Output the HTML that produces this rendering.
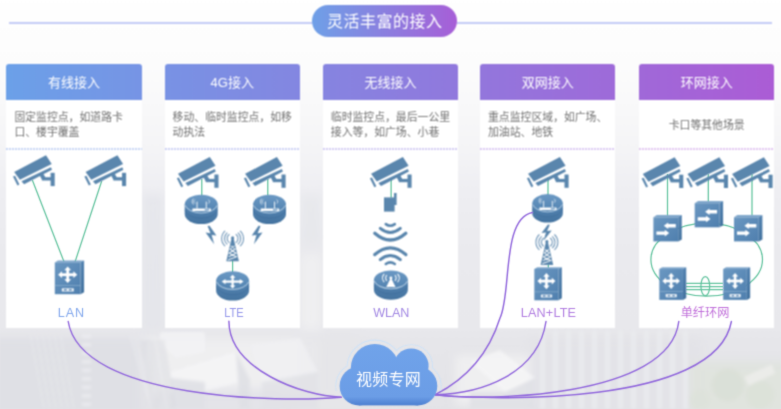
<!DOCTYPE html>
<html lang="zh-CN">
<head>
<meta charset="utf-8">
<title>灵活丰富的接入</title>
<style>
html,body{margin:0;padding:0;width:781px;height:409px;overflow:hidden;}
#clip{position:absolute;left:0;top:0;width:781px;height:409px;overflow:hidden;}
body{position:relative;width:781px;height:409px;overflow:hidden;background:#fff;font-family:"Liberation Sans","Noto Sans CJK SC",sans-serif;}
#wrap{position:absolute;left:-8px;top:-8px;width:797px;height:425px;filter:url(#fb);
  background:linear-gradient(180deg,#ffffff 0px,#fcfcfc 72px,#f8f8f9 118px,#f4f4f6 158px,#eeeef2 198px,#eaeaee 258px,#e8e8ec 336px,#e6e6ea 348px,#e3e3e7 425px);}
#stage,#stageB{position:absolute;left:8px;top:8px;width:781px;height:409px;}
#wrapB,.wrapX{position:absolute;left:-8px;top:-8px;width:797px;height:425px;}
#wrapB{filter:url(#fb2);}
.stageX{position:absolute;left:8px;top:8px;width:781px;height:409px;}
.bld{position:absolute;}
.card{position:absolute;top:64.2px;width:135.4px;height:264.3px;background:#fff;border-radius:3px 3px 0 0;overflow:hidden;}
.hdr{position:absolute;left:0;top:0;width:100%;height:35.6px;line-height:37.4px;text-align:center;color:#fff;font-size:13px;
  background-image:linear-gradient(90deg,#6ba0e8,#ab5cd5);background-size:768px 100%;background-repeat:no-repeat;}
.desc{position:absolute;left:8px;right:0;top:36.2px;height:49px;display:flex;align-items:center;font-size:10.85px;line-height:14.5px;color:#707070;white-space:nowrap;}
.desc.c{left:0;justify-content:center;}
.dot{position:absolute;left:0;right:0;top:83.7px;height:1.7px;background-image:repeating-linear-gradient(90deg,var(--c) 0,var(--c) 2px,transparent 2px,transparent 3px);}
.lab{position:absolute;top:304.7px;width:120px;margin-left:-60px;text-align:center;font-size:12.6px;line-height:16px;}
.lab.cn{font-size:12.2px;top:304.5px;}
#pill{position:absolute;left:312px;top:5px;width:145px;height:32px;border-radius:16px;background:linear-gradient(90deg,#6ea0e7,#a75ed7);
  color:#fff;font-size:16px;line-height:34px;text-align:center;letter-spacing:0.5px;text-indent:0.5px;}
.hl{position:absolute;top:22px;height:1.5px;background:#c3cbf6;}
#cloudtxt{position:absolute;left:339px;top:368px;width:99px;text-align:center;color:#fff;font-size:16px;line-height:24px;letter-spacing:0.3px;}
</style>
</head>
<body>
<svg width="0" height="0" style="position:absolute"><filter id="fb" x="0" y="0" width="100%" height="100%" color-interpolation-filters="sRGB"><feConvolveMatrix order="3" kernelMatrix="1 2 1 2 4 2 1 2 1" divisor="16" edgeMode="duplicate" preserveAlpha="false"/></filter><filter id="fb2" x="0" y="0" width="100%" height="100%" color-interpolation-filters="sRGB"><feConvolveMatrix order="3" kernelMatrix="1 5 1 5 25 5 1 5 1" divisor="49" edgeMode="duplicate" preserveAlpha="false"/></filter></svg>
<div id="clip">
<div id="wrap">
<div id="stage">

<svg id="bg" width="781" height="409" viewBox="0 0 781 409" style="position:absolute;left:0;top:0">
<defs><filter id="bl" x="-20%" y="-20%" width="140%" height="140%"><feGaussianBlur stdDeviation="4"/></filter><filter id="bl2" x="-20%" y="-20%" width="140%" height="140%"><feGaussianBlur stdDeviation="1.6"/></filter></defs>
<g filter="url(#bl)">
<rect x="-10" y="338" width="150" height="90" fill="#dedfe4" opacity="0.90"/>
<rect x="150" y="338" width="170" height="55" fill="#efeff1" opacity="0.90"/>
<rect x="160" y="388" width="120" height="30" fill="#e4e4e8" opacity="0.80"/>
<rect x="300" y="338" width="60" height="80" fill="#e6e6e9" opacity="0.80"/>
<rect x="455" y="355" width="80" height="50" fill="#efeff1" opacity="0.90"/>
<rect x="530" y="338" width="170" height="80" fill="#e2e2e7" opacity="0.80"/>
<rect x="690" y="362" width="100" height="60" fill="#dfe3dd" opacity="0.90"/>
<rect x="143" y="195" width="20" height="135" fill="#e3e4e9" opacity="0.70"/>
<rect x="301" y="255" width="20" height="75" fill="#f0f0f1" opacity="0.80"/>
<rect x="301" y="195" width="20" height="50" fill="#e5e6ea" opacity="0.60"/>
</g>
<g filter="url(#bl2)" opacity="0.8">
<rect x="82" y="335.0" width="9" height="2.6" fill="#f1f1f4"/>
<rect x="82" y="343.5" width="9" height="2.6" fill="#f1f1f4"/>
<rect x="82" y="352.0" width="9" height="2.6" fill="#f1f1f4"/>
<rect x="82" y="360.5" width="9" height="2.6" fill="#f1f1f4"/>
<rect x="82" y="369.0" width="9" height="2.6" fill="#f1f1f4"/>
<rect x="82" y="377.5" width="9" height="2.6" fill="#f1f1f4"/>
<rect x="82" y="386.0" width="9" height="2.6" fill="#f1f1f4"/>
<rect x="82" y="394.5" width="9" height="2.6" fill="#f1f1f4"/>
<rect x="82" y="403.0" width="9" height="2.6" fill="#f1f1f4"/>
<path d="M130,335 l22,74" stroke="#eeeff2" stroke-width="1.2"/>
<path d="M134,335 l22,74" stroke="#eeeff2" stroke-width="1.2"/>
<path d="M138,335 l22,74" stroke="#eeeff2" stroke-width="1.2"/>
<path d="M142,335 l22,74" stroke="#eeeff2" stroke-width="1.2"/>
<path d="M146,335 l22,74" stroke="#eeeff2" stroke-width="1.2"/>
<path d="M150,335 l22,74" stroke="#eeeff2" stroke-width="1.2"/>
<path d="M154,335 l22,74" stroke="#eeeff2" stroke-width="1.2"/>
<path d="M30,332 l14,77" stroke="#e9eaee" stroke-width="1.3"/>
<path d="M36,332 l14,77" stroke="#e9eaee" stroke-width="1.3"/>
<path d="M42,332 l14,77" stroke="#e9eaee" stroke-width="1.3"/>
<path d="M48,332 l14,77" stroke="#e9eaee" stroke-width="1.3"/>
<path d="M54,332 l14,77" stroke="#e9eaee" stroke-width="1.3"/>
<path d="M60,332 l14,77" stroke="#e9eaee" stroke-width="1.3"/>
<polygon points="470,362 500,350 535,378 505,392" fill="#f6f6f7"/>
<polygon points="170,372 235,352 248,380 178,398" fill="#f5f5f7"/>
<polygon points="250,345 300,338 318,372 262,382" fill="#f0f0f3"/>
<polygon points="171,378 205,382 205,409 171,409" fill="#dfe0e5"/>
<polygon points="160,332 205,332 205,352 176,358 160,344" fill="#f3f3f5"/>
<polygon points="262,382 318,372 318,409 262,409" fill="#e1e2e6"/>
<polygon points="470,392 505,392 535,378 535,409 470,409" fill="#dfe0e5"/>
<path d="M141,340 l12,69" stroke="#d9dae0" stroke-width="1.6"/>
<path d="M144,340 l12,69" stroke="#d9dae0" stroke-width="1.6"/>
<path d="M147,340 l12,69" stroke="#d9dae0" stroke-width="1.6"/>
<path d="M150,340 l12,69" stroke="#d9dae0" stroke-width="1.6"/>
<path d="M153,340 l12,69" stroke="#d9dae0" stroke-width="1.6"/>
<path d="M157,340 l12,69" stroke="#d9dae0" stroke-width="1.6"/>
<path d="M160,340 l12,69" stroke="#d9dae0" stroke-width="1.6"/>
<path d="M163,340 l12,69" stroke="#d9dae0" stroke-width="1.6"/>
<polygon points="236,352 250,380 250,409 240,409" fill="#dedfe4"/>
<rect x="540" y="330" width="5" height="80" fill="#eaebee"/>
<rect x="553" y="330" width="5" height="80" fill="#eaebee"/>
<rect x="566" y="330" width="5" height="80" fill="#eaebee"/>
<rect x="579" y="330" width="5" height="80" fill="#eaebee"/>
<rect x="592" y="330" width="5" height="80" fill="#eaebee"/>
<rect x="605" y="330" width="5" height="80" fill="#eaebee"/>
<rect x="618" y="330" width="5" height="80" fill="#eaebee"/>
<rect x="631" y="330" width="5" height="80" fill="#eaebee"/>
<rect x="644" y="330" width="5" height="80" fill="#eaebee"/>
<rect x="657" y="330" width="5" height="80" fill="#eaebee"/>
<rect x="670" y="330" width="5" height="80" fill="#eaebee"/>
<rect x="683" y="330" width="5" height="80" fill="#eaebee"/>
<circle cx="728" cy="385" r="16" fill="#d9dfd6"/><circle cx="760" cy="395" r="14" fill="#dbe1d8"/><circle cx="700" cy="400" r="10" fill="#dde2da"/>
<rect x="745" y="370" width="30" height="10" fill="#eeeeec" transform="rotate(-25 760 375)"/>
</g>
</svg>
<div class="hl" style="left:9px;width:303px"></div>
<div class="hl" style="left:457px;width:315px"></div>
<div id="pill">灵活丰富的接入</div>
<div class="card" style="left:6.4px">
<div class="hdr" style="background-position:-0.0px 0">有线接入</div>
<div class="desc"><span>固定监控点，如道路卡<br>口、楼宇覆盖</span></div>
<div class="dot" style="--c:#c6d5f5"></div>
</div>
<div class="card" style="left:164.6px">
<div class="hdr" style="background-position:-158.2px 0">4G接入</div>
<div class="desc"><span>移动、临时监控点，如移<br>动执法</span></div>
<div class="dot" style="--c:#cbd0f4"></div>
</div>
<div class="card" style="left:322.8px">
<div class="hdr" style="background-position:-316.4px 0">无线接入</div>
<div class="desc"><span>临时监控点，最后一公里<br>接入等，如广场、小巷</span></div>
<div class="dot" style="--c:#d2ccf3"></div>
</div>
<div class="card" style="left:480.0px">
<div class="hdr" style="background-position:-473.6px 0">双网接入</div>
<div class="desc"><span>重点监控区域，如广场、<br>加油站、地铁</span></div>
<div class="dot" style="--c:#dac8f2"></div>
</div>
<div class="card" style="left:639.0px">
<div class="hdr" style="background-position:-632.6px 0">环网接入</div>
<div class="desc c"><span>卡口等其他场景</span></div>
<div class="dot" style="--c:#e0c5f0"></div>
</div>
</div>
</div>
<div class="wrapX" style="filter:url(#fb2)"><div class="stageX">
<svg width="781" height="409" viewBox="0 0 781 409" style="position:absolute;left:0;top:0">
<g stroke="#60c29d" stroke-width="1.25" fill="none">
<path d="M32.3,180 L64.1,262 M101.7,181 L75,262"/>
<path d="M201.8,179 V196 M267.8,179 V196 M232.6,260 V273"/>
<path d="M391.1,179 V198"/>
<path d="M548,178 V196 M548.3,264 V268.5"/>
<path d="M667.5,174 V216 M708.3,174 V202 M752,174 V216"/>
<ellipse cx="706.7" cy="259.6" rx="55.8" ry="36.6"/>
<path d="M686,283.4 H723 M686,286.5 H723 M686,289.6 H723"/>
<ellipse cx="705.3" cy="286.1" rx="4.4" ry="9.6"/>
</g>
</svg>
</div></div>
<div class="wrapX" style="filter:url(#fb)"><div class="stageX">
<svg width="781" height="409" viewBox="0 0 781 409" style="position:absolute;left:0;top:0">

<defs>
  <linearGradient id="gFront" x1="0" y1="0" x2="1" y2="1">
    <stop offset="0" stop-color="#6a97c1"/><stop offset="1" stop-color="#4f7fae"/>
  </linearGradient>
  <linearGradient id="gDisc" x1="0" y1="0" x2="0" y2="1">
    <stop offset="0" stop-color="#6b99c4"/><stop offset="1" stop-color="#4f80ae"/>
  </linearGradient>
  <linearGradient id="gSide" x1="0" y1="0" x2="0" y2="1">
    <stop offset="0" stop-color="#5483b1"/><stop offset="1" stop-color="#44739f"/>
  </linearGradient>
  <linearGradient id="gPill" x1="0" y1="0" x2="1" y2="0">
    <stop offset="0" stop-color="#6ea0e7"/><stop offset="1" stop-color="#a75ed7"/>
  </linearGradient>

  <!-- camera : 43 x 33 -->
  <g id="cam" fill="#5a86ad">
    <polygon points="1.5,17.6 33.3,0.8 39.0,9.5 7.2,25.3"/>
    <polygon points="8.8,26.7 38.2,12.7 39.3,15.2 11.4,29.8"/>
    <polygon points="0.3,22.1 2.4,21.3 6.7,30.0 4.8,31.0"/>
    <polygon points="26.1,19.3 29.7,17.8 32.8,22.9 29.2,25"/>
    <rect x="29.2" y="22.7" width="9.5" height="3.3"/>
    <rect x="37.9" y="18.3" width="4.1" height="13.3"/>
  </g>

  <!-- L3 switch : 29 x 33.5 -->
  <g id="sw3">
    <polygon points="0,1.8 3.2,0 29.3,0 25.7,1.8" fill="#7fa6cb"/>
    <polygon points="25.7,1.8 29.3,0 29.3,31.6 25.7,33.6" fill="url(#gSide)"/>
    <rect x="0" y="1.8" width="25.7" height="31.8" fill="url(#gFront)"/>
    <rect x="0" y="24.7" width="25.7" height="0.7" fill="#9bbad6" opacity="0.8"/>
    <g fill="#fff">
      <rect x="6" y="12.7" width="13.8" height="2.8"/>
      <rect x="11.5" y="8.6" width="2.8" height="11"/>
      <polygon points="12.9,5.9 16.3,9.6 9.5,9.6"/>
      <polygon points="12.9,22.3 16.3,18.6 9.5,18.6"/>
      <polygon points="3.3,14.1 7.2,10.7 7.2,17.5"/>
      <polygon points="22.5,14.1 18.6,10.7 18.6,17.5"/>
      <rect x="7" y="27.6" width="12" height="3.2" rx="0.5" opacity="0.9"/>
    </g>
    <rect x="9" y="28.5" width="3" height="1.4" fill="#5a88b4"/>
    <rect x="14" y="28.5" width="3" height="1.4" fill="#5a88b4"/>
  </g>

  <!-- L2 switch : 28.5 x 26.5 -->
  <g id="sw2">
    <polygon points="0,2.3 3.4,0 28.4,0 24.8,2.3" fill="#7fa6cb"/>
    <polygon points="24.8,2.3 28.4,0 28.4,24.4 24.8,26.4" fill="url(#gSide)"/>
    <rect x="0" y="2.3" width="24.8" height="24.1" fill="url(#gFront)"/>
    <g fill="#fff">
      <polygon points="10.4,10.8 14.8,7.5 14.8,9.1 22.4,9.1 22.4,12.5 14.8,12.5 14.8,14.1"/>
      <polygon points="15.8,18.1 11.4,14.8 11.4,16.4 3.0,16.4 3.0,19.8 11.4,19.8 11.4,21.4"/>
    </g>
  </g>

  <!-- router disc : 33 x 29.5  (no icon) -->
  <g id="disc">
    <path d="M0,10 L0,19.5 A16.5,10 0 0 0 33,19.5 L33,10 Z" fill="url(#gSide)"/>
    <path d="M0.2,15.2 A16.5,10 0 0 0 32.8,15.2" fill="none" stroke="#3a6896" stroke-width="0.9" opacity="0.55"/>
    <ellipse cx="16.5" cy="10" rx="16.5" ry="9.9" fill="url(#gDisc)"/>
    <path d="M0.4,10.6 A16.5,9.9 0 0 0 32.6,10.6" fill="none" stroke="#c2d6e8" stroke-width="1" opacity="0.9"/>
  </g>

  <!-- wireless router icon on disc -->
  <g id="icoWr" fill="#fff" stroke="none">
    <rect x="7.7" y="13.8" width="18.5" height="2.7" rx="0.4"/>
    <rect x="11.9" y="7" width="0.9" height="7"/>
    <rect x="21.1" y="7" width="0.9" height="7"/>
    <path d="M10.3,5 a2.4,2.4 0 0 0 0,4 M8.8,4 a4,4 0 0 0 0,6 M23.6,5 a2.4,2.4 0 0 1 0,4" fill="none" stroke="#fff" stroke-width="0.8" opacity="0.85"/>
    <rect x="20" y="14.5" width="4.5" height="1.3" fill="#6b99c4"/>
  </g>

  <!-- 4-arrow icon on disc -->
  <g id="icoX" fill="#fff">
    <rect x="8" y="9.4" width="17" height="2.2"/>
    <rect x="15.4" y="5.4" width="2.2" height="10.4"/>
    <polygon points="5.6,10.5 9.4,7.9 9.4,13.1"/>
    <polygon points="27.4,10.5 23.6,7.9 23.6,13.1"/>
    <polygon points="16.5,3.7 19.4,6.6 13.6,6.6"/>
    <polygon points="16.5,17.3 19.4,14.4 13.6,14.4"/>
  </g>

  <!-- AP icon on disc -->
  <g id="icoAp">
    <polygon points="16.5,7.2 21,16.6 12,16.6" fill="#fff"/>
    <circle cx="16.5" cy="7.6" r="1.4" fill="#fff"/>
    <path d="M12.6,4.9 a3.9,3.9 0 0 0 0,5.6 M10,3.5 a6.4,6.4 0 0 0 0,8.4 M20.4,4.9 a3.9,3.9 0 0 1 0,5.6 M23,3.5 a6.4,6.4 0 0 1 0,8.4" fill="none" stroke="#fff" stroke-width="1.05"/>
  </g>

  <!-- tower : 23 x 32, mast centre x=11.5 -->
  <g id="tower">
    <path d="M8.3,4.5 a5,5 0 0 0 0,8.4 M6.2,2.8 a7.6,7.6 0 0 0 0,11.8 M4,1 a10.4,10.4 0 0 0 0,15.4
             M14.7,4.5 a5,5 0 0 1 0,8.4 M16.8,2.8 a7.6,7.6 0 0 1 0,11.8 M19,1 a10.4,10.4 0 0 1 0,15.4"
          fill="none" stroke="#5a86ad" stroke-width="1.05" opacity="0.9"/>
    <polygon points="10.7,7.5 12.3,7.5 17.8,31.5 5.2,31.5" fill="#5a86ad"/>
    <path d="M9.6,16 l4.4,3.4 l-6,4 l7.4,3.6 l-8.6,3.2 M13.4,16 l-4.4,3.4 l6,4 l-7.4,3.6" fill="none" stroke="#fff" stroke-width="1.05" opacity="0.9"/>
    <circle cx="11.5" cy="8" r="1.5" fill="#5a86ad"/>
  </g>

  <!-- bolt : 10 x 17.5 -->
  <g id="bolt" fill="#5a86ad">
    <polygon points="6.4,0 0.2,9.2 4.5,8.6 2.2,17.5 10,6.4 5.6,7.1 8.2,0.3"/>
  </g>
</defs>

<use href="#cam" x="12.7" y="154.5" />
<use href="#cam" x="84.1" y="154.5" />
<use href="#cam" x="176.5" y="156.2" />
<use href="#cam" x="243.6" y="156.2" />
<use href="#cam" x="369.6" y="156.2" />
<use href="#cam" x="526.6" y="156.2" />
<use href="#cam" x="641.3" y="156.4" />
<use href="#cam" x="686.0" y="156.4" />
<use href="#cam" x="730.6" y="156.4" />
<use href="#sw3" x="54.8" y="260.6" />
<g transform="translate(184.7,194.6)"><use href="#disc"/><use href="#icoWr"/></g>
<g transform="translate(253.0,194.6)"><use href="#disc"/><use href="#icoWr"/></g>
<use href="#bolt" transform="translate(216.6,225.8) scale(-1.1,1.06)"/>
<use href="#bolt" transform="translate(251.5,225.8) scale(1.1,1.06)"/>
<use href="#tower" x="221.1" y="229.8" />
<g transform="translate(216.1,271.1)"><use href="#disc"/><use href="#icoX"/></g>
<g fill="#5a86ad"><rect x="384" y="197.4" width="10.6" height="14.2"/><rect x="394" y="193" width="2.6" height="12"/></g>
<g fill="none" stroke="#5a86ad" stroke-linecap="round">
<path d="M385.8,224.1 Q390.3,227.4 394.8,224.1" stroke-width="2.6"/>
<path d="M380.3,228.4 Q390.3,236.6 400.3,228.4" stroke-width="3"/>
<path d="M374.8,233.3 Q390.3,246.8 405.8,233.3" stroke-width="3.3"/>
<path d="M374.8,254.6 Q390.3,241.2 405.8,254.6" stroke-width="3.3"/>
<path d="M380.3,259.6 Q390.3,251.4 400.3,259.6" stroke-width="3"/>
<path d="M385.8,264 Q390.3,260.6 394.8,264" stroke-width="2.6"/>
</g>
<g transform="translate(373.9,270.3) scale(1.03,1)"><use href="#disc"/><use href="#icoAp"/></g>
<g transform="translate(532.2,194) scale(0.93,0.97)"><use href="#disc"/><use href="#icoWr"/></g>
<use href="#bolt" transform="translate(541.3,224.4) scale(1.04,0.94)"/>
<use href="#tower" x="535.4" y="233.5" />
<use href="#sw3" transform="translate(534.3,267.2) scale(0.94,0.985)"/>
<use href="#sw2" x="653.4" y="215.0" />
<use href="#sw2" x="694.7" y="200.9" />
<use href="#sw2" x="734.0" y="215.0" />
<use href="#sw3" transform="translate(659.3,267.3) scale(0.92,0.97)"/>
<use href="#sw3" transform="translate(723.2,267.3) scale(0.92,0.97)"/>
</svg>
</div></div>
<div id="wrapB">
<div id="stageB">
<svg width="781" height="409" viewBox="0 0 781 409" style="position:absolute;left:0;top:0">
<defs><linearGradient id="gCloud" gradientUnits="userSpaceOnUse" x1="0" y1="343" x2="0" y2="405.4">
    <stop offset="0" stop-color="#70a3ea"/><stop offset="0.86" stop-color="#6b9de6"/><stop offset="1" stop-color="#4c7fd0"/>
  </linearGradient></defs>
<path d="M68.2,321.5 C80.8,399.6 281.3,402.7 341.0,397.2" fill="none" stroke="#9066dc" stroke-width="1.45" stroke-linecap="round"/>
<path d="M228.9,321.2 C229.2,369.2 301.8,396.0 341.3,397.2" fill="none" stroke="#9066dc" stroke-width="1.45" stroke-linecap="round"/>
<path d="M532.5,212.5 C501.4,218.0 511.7,294.1 500.0,318.0 C489.2,352.4 467.1,378.4 435.3,394.7" fill="none" stroke="#9066dc" stroke-width="1.45" stroke-linecap="round"/>
<path d="M546.0,321.5 C538.2,374.0 481.7,393.6 435.3,394.7" fill="none" stroke="#9066dc" stroke-width="1.45" stroke-linecap="round"/>
<path d="M678.8,321.5 C669.3,398.7 483.5,401.2 435.3,394.7" fill="none" stroke="#9066dc" stroke-width="1.45" stroke-linecap="round"/>
<path d="M731.4,321.5 C715.6,406.9 489.4,400.3 435.3,394.9" fill="none" stroke="#9066dc" stroke-width="1.45" stroke-linecap="round"/>
<mask id="mHalo" maskUnits="userSpaceOnUse" x="320" y="325" width="140" height="66"><rect x="320" y="325" width="140" height="66" fill="#fff"/>
<circle cx="359.0" cy="386.0" r="22.6" fill="#000"/>
<circle cx="417.9" cy="386.0" r="22.6" fill="#000"/>
<circle cx="374.8" cy="367.9" r="27.2" fill="#000"/>
<circle cx="411.2" cy="365.9" r="20.6" fill="#000"/>
</mask>
<g mask="url(#mHalo)" fill="none" stroke="#cfe2f6" stroke-width="1.1">
<circle cx="359.0" cy="386.0" r="23.2"/>
<circle cx="417.9" cy="386.0" r="23.2"/>
<circle cx="374.8" cy="367.9" r="27.8"/>
<circle cx="411.2" cy="365.9" r="21.2"/>
</g>
<g fill="url(#gCloud)">
<circle cx="359.0" cy="386.0" r="19.4"/>
<circle cx="417.9" cy="386.0" r="19.4"/>
<circle cx="374.8" cy="367.9" r="24.0"/>
<circle cx="411.2" cy="365.9" r="17.4"/>
<rect x="359" y="372" width="58.9" height="33.4"/>
</g>
</svg>
<div class="lab" style="left:71.0px;color:#80a6ec;letter-spacing:0.9px;text-indent:0.9px">LAN</div>
<div class="lab" style="left:234.0px;color:#9396ea;transform:scaleX(0.88)">LTE</div>
<div class="lab" style="left:391.2px;color:#a288e3;letter-spacing:-0.1px">WLAN</div>
<div class="lab" style="left:548.4px;color:#b07ce0;letter-spacing:0.2px;text-indent:0.2px">LAN+LTE</div>
<div class="lab cn" style="left:705.0px;color:#c06fda;">单纤环网</div>
<div id="cloudtxt">视频专网</div>
</div>
</div>
</div>
</body>
</html>
